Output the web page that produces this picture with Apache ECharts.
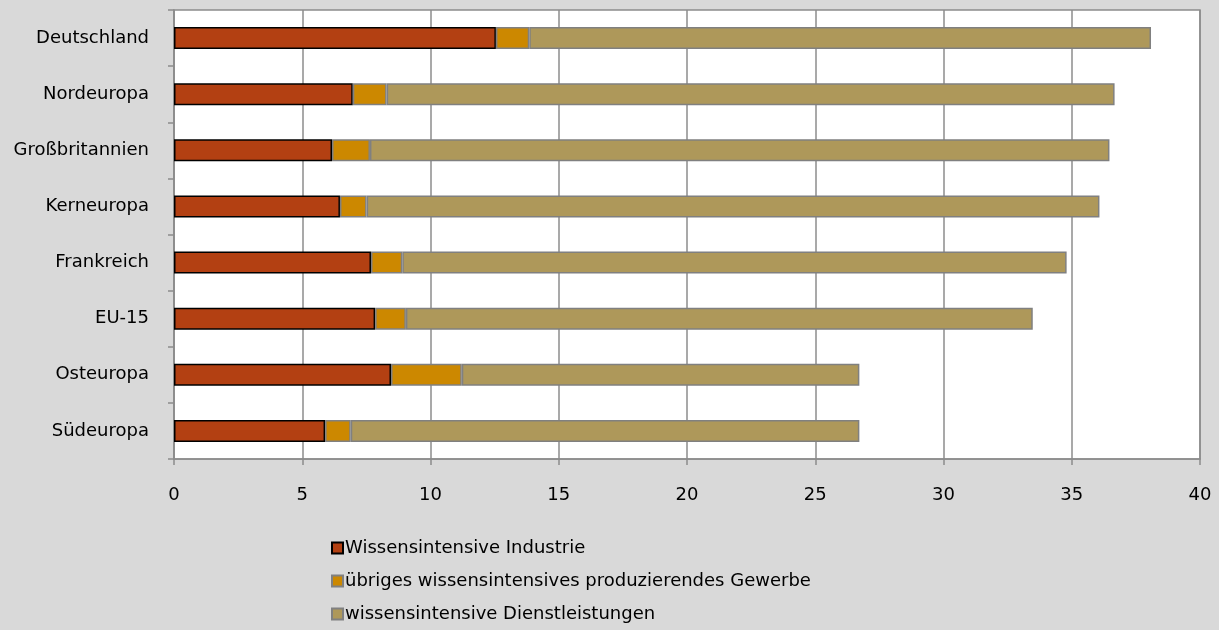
<!DOCTYPE html>
<html>
<head>
<meta charset="utf-8">
<script src="https://cdn.jsdelivr.net/npm/echarts@6/dist/echarts.min.js"></script>
<style>
  html, body { margin: 0; padding: 0; background: #d9d9d9; }
  #chart { width: 1219px; height: 630px; }
</style>
</head>
<body>
<div id="chart"></div>
<script>
// Regions, top to bottom
const regions = ['Deutschland', 'Nordeuropa', 'Großbritannien', 'Kerneuropa', 'Frankreich', 'EU-15', 'Osteuropa', 'Südeuropa'];

// Shares per sector (percent)
const industrie      = [12.55, 6.97, 6.16, 6.47, 7.68, 7.84, 8.46, 5.89];
const gewerbe        = [1.30, 1.32, 1.48, 1.04, 1.22, 1.20, 2.76, 1.00];
const dienstleistung = [24.24, 28.38, 28.83, 28.57, 25.90, 24.44, 15.50, 19.83];

const seriesNames = [
  'Wissensintensive Industrie',
  'übriges wissensintensives produzierendes Gewerbe',
  'wissensintensive Dienstleistungen'
];

const FONT = 'DejaVu Sans';
const FS = 18;
const GRID = '#8c8c8c';

// category axis is drawn bottom-up, so reverse the order for ECharts
const rev = a => a.slice().reverse();

const chart = echarts.init(document.getElementById('chart'), null, { renderer: 'canvas' });
chart.setOption({
  backgroundColor: '#d9d9d9',
  animation: false,
  textStyle: { fontFamily: FONT },
  grid: {
    left: 174, right: 19, top: 10, bottom: 171,
    show: true, backgroundColor: '#ffffff', borderColor: GRID, borderWidth: 1.5,
    containLabel: false
  },
  xAxis: {
    type: 'value', min: 0, max: 40, interval: 5,
    axisLine: { show: true, lineStyle: { color: GRID, width: 1.5 } },
    axisTick: { show: true, length: 6, lineStyle: { color: GRID, width: 1.5 } },
    splitLine: { show: true, lineStyle: { color: GRID, width: 1.5 } },
    axisLabel: { color: '#000', fontSize: FS, margin: 27, fontFamily: FONT }
  },
  yAxis: {
    type: 'category', data: rev(regions),
    axisLine: { show: true, lineStyle: { color: GRID, width: 1.5 } },
    axisTick: { show: true, length: 6, lineStyle: { color: GRID, width: 1.5 } },
    axisLabel: { color: '#000', fontSize: FS, margin: 25, fontFamily: FONT }
  },
  legend: {
    orient: 'vertical', left: 326, top: 534,
    itemWidth: 11, itemHeight: 11, itemGap: 15,
    icon: 'rect',
    textStyle: { color: '#000', fontSize: FS, fontFamily: FONT, padding: [0, 0, 0, -3] },
    data: seriesNames
  },
  series: [
    {
      name: seriesNames[0], type: 'bar', stack: 'total', data: rev(industrie),
      barWidth: 22,
      itemStyle: { color: '#b34012', borderColor: '#000000', borderWidth: 1.5 }
    },
    {
      name: seriesNames[1], type: 'bar', stack: 'total', data: rev(gewerbe),
      barWidth: 22,
      itemStyle: { color: '#cc8800', borderColor: '#808080', borderWidth: 1.5 }
    },
    {
      name: seriesNames[2], type: 'bar', stack: 'total', data: rev(dienstleistung),
      barWidth: 22,
      itemStyle: { color: '#ae985a', borderColor: '#808080', borderWidth: 1.5 }
    }
  ]
});
</script>
</body>
</html>
